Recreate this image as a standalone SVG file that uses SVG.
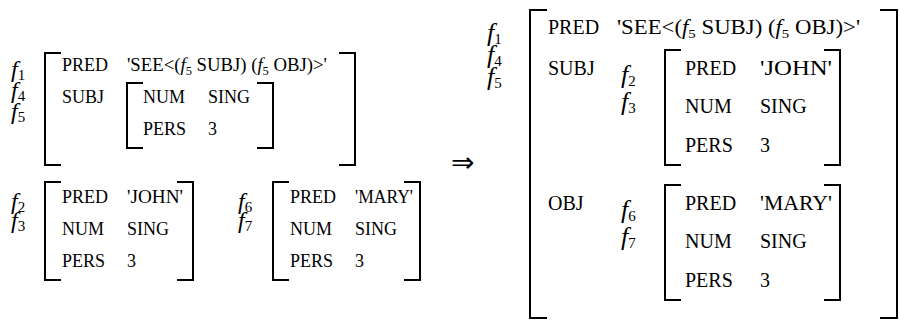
<svg xmlns="http://www.w3.org/2000/svg" width="900" height="321" viewBox="0 0 900 321">
<style>
text { font-family: "Liberation Serif", serif; fill: #000; }
.l { font-size: 18px; }
.r { font-size: 20px; }
.fl { font-style: italic; font-size: 24px; }
.fr { font-style: italic; font-size: 26px; }
.s { font-style: normal; font-size: 15px; }
.br { fill: none; stroke: #000; stroke-width: 2; }
.arr { font-family: "DejaVu Sans", sans-serif; font-size: 28px; }
</style>
<rect width="900" height="321" fill="#fff"/>

<g id="fs-f1-left">
  <text class="fl" x="11" y="77">f<tspan class="s" dy="3">1</tspan></text>
  <text class="fl" x="11" y="98">f<tspan class="s" dy="3">4</tspan></text>
  <text class="fl" x="11" y="119">f<tspan class="s" dy="3">5</tspan></text>
  <path class="br" d="M61 53 H45 V165 H61"/>
  <path class="br" d="M339 53 H355 V165 H339"/>
  <text class="l" x="62" y="71">PRED</text>
  <text class="l" x="127" y="71" textLength="200" lengthAdjust="spacingAndGlyphs">'SEE&lt;(<tspan font-style="italic">f</tspan><tspan font-size="12" dy="4">5</tspan><tspan dy="-4"> SUBJ) (</tspan><tspan font-style="italic">f</tspan><tspan font-size="12" dy="4">5</tspan><tspan dy="-4"> OBJ)&gt;'</tspan></text>
  <text class="l" x="62" y="103">SUBJ</text>
  <path class="br" d="M143 83 H127 V148 H143"/>
  <path class="br" d="M257 83 H273 V148 H257"/>
  <text class="l" x="143" y="103">NUM</text>
  <text class="l" x="208" y="103">SING</text>
  <text class="l" x="143" y="135">PERS</text>
  <text class="l" x="208" y="135">3</text>
</g>

<g id="fs-f2-left">
  <text class="fl" x="11" y="209">f<tspan class="s" dy="3">2</tspan></text>
  <text class="fl" x="11" y="228">f<tspan class="s" dy="3">3</tspan></text>
  <path class="br" d="M61 182 H45 V280 H61"/>
  <path class="br" d="M177 182 H193 V280 H177"/>
  <text class="l" x="62" y="203">PRED</text>
  <text class="l" x="127" y="203" textLength="56" lengthAdjust="spacingAndGlyphs">'JOHN'</text>
  <text class="l" x="62" y="235">NUM</text>
  <text class="l" x="127" y="235">SING</text>
  <text class="l" x="62" y="267">PERS</text>
  <text class="l" x="127" y="267">3</text>
</g>

<g id="fs-f6-left">
  <text class="fl" x="238" y="209">f<tspan class="s" dy="3">6</tspan></text>
  <text class="fl" x="238" y="228">f<tspan class="s" dy="3">7</tspan></text>
  <path class="br" d="M289 182 H273 V280 H289"/>
  <path class="br" d="M404 182 H420 V280 H404"/>
  <text class="l" x="290" y="203">PRED</text>
  <text class="l" x="355" y="203" textLength="58" lengthAdjust="spacingAndGlyphs">'MARY'</text>
  <text class="l" x="290" y="235">NUM</text>
  <text class="l" x="355" y="235">SING</text>
  <text class="l" x="290" y="267">PERS</text>
  <text class="l" x="355" y="267">3</text>
</g>

<g id="connectors">
  <text class="arr" x="451" y="172">⇒</text>
</g>

<g id="fs-f1-right">
  <text class="fr" x="487" y="41">f<tspan class="s" dy="3">1</tspan></text>
  <text class="fr" x="487" y="63">f<tspan class="s" dy="3">4</tspan></text>
  <text class="fr" x="487" y="85">f<tspan class="s" dy="3">5</tspan></text>
  <path class="br" d="M547 10 H530 V318 H547"/>
  <path class="br" d="M880 10 H897 V318 H880"/>
  <text class="r" x="548" y="34">PRED</text>
  <text class="r" x="617" y="34" textLength="243" lengthAdjust="spacingAndGlyphs">'SEE&lt;(<tspan font-style="italic">f</tspan><tspan font-size="13" dy="4">5</tspan><tspan dy="-4"> SUBJ) (</tspan><tspan font-style="italic">f</tspan><tspan font-size="13" dy="4">5</tspan><tspan dy="-4"> OBJ)&gt;'</tspan></text>
  <text class="r" x="548" y="75">SUBJ</text>
  <text class="r" x="548" y="210">OBJ</text>
  <g id="fs-f2-right">
    <text class="fr" x="621" y="83">f<tspan class="s" dy="3">2</tspan></text>
    <text class="fr" x="621" y="110">f<tspan class="s" dy="3">3</tspan></text>
    <path class="br" d="M681 50 H665 V165 H681"/>
    <path class="br" d="M824 50 H840 V165 H824"/>
    <text class="r" x="685" y="75">PRED</text>
    <text class="r" x="760" y="75" textLength="72" lengthAdjust="spacingAndGlyphs">'JOHN'</text>
    <text class="r" x="685" y="113">NUM</text>
    <text class="r" x="760" y="113">SING</text>
    <text class="r" x="685" y="152">PERS</text>
    <text class="r" x="760" y="152">3</text>
  </g>
  <g id="fs-f6-right">
    <text class="fr" x="621" y="218">f<tspan class="s" dy="3">6</tspan></text>
    <text class="fr" x="621" y="245">f<tspan class="s" dy="3">7</tspan></text>
    <path class="br" d="M681 185 H665 V300 H681"/>
    <path class="br" d="M824 185 H840 V300 H824"/>
    <text class="r" x="685" y="210">PRED</text>
    <text class="r" x="760" y="210" textLength="72" lengthAdjust="spacingAndGlyphs">'MARY'</text>
    <text class="r" x="685" y="248">NUM</text>
    <text class="r" x="760" y="248">SING</text>
    <text class="r" x="685" y="287">PERS</text>
    <text class="r" x="760" y="287">3</text>
  </g>
</g>
</svg>
